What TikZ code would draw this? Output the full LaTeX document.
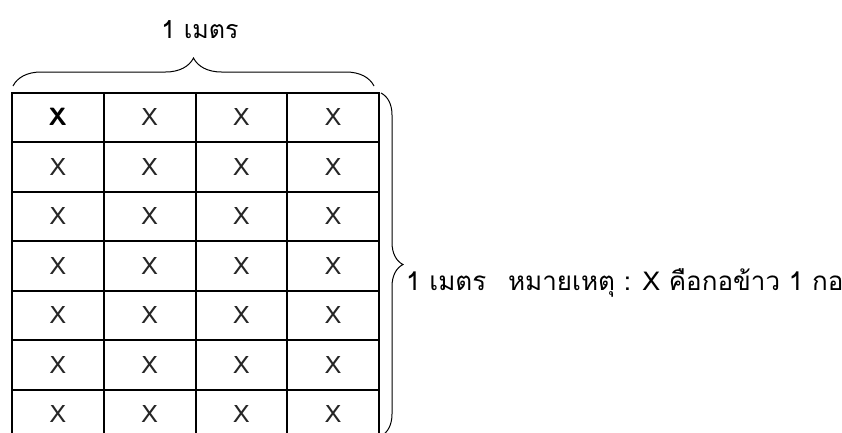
\documentclass[tikz,border=0pt]{standalone}
\usepackage{fontspec}
\setmainfont[Script=Thai]{Loma}
\newfontfamily\thaifont[Script=Thai]{Loma}
\usetikzlibrary{decorations.pathreplacing}
\begin{document}
\begin{tikzpicture}[x=1pt,y=-1pt,
  gridline/.style={line width=2pt},
  bracepath/.style={decorate,line width=1pt,decoration={brace,amplitude=#1}},
  xmark/.style={font=\fontsize{24}{28}\selectfont\thaifont\color{black!85},inner sep=0pt},
  lbl/.style={font=\fontsize{25}{30}\selectfont\thaifont,inner sep=0pt}]
\useasboundingbox (0,0) rectangle (842,432);
\begin{scope}
\clip (0,0) rectangle (842,432);
% grid
\foreach \i in {0,...,4}{
  \draw[gridline] ({12+91.75*\i},92.5) -- ({12+91.75*\i},440);
}
\foreach \j in {0,...,7}{
  \draw[gridline] (11,{92.5+49.5*\j}) -- (380,{92.5+49.5*\j});
}
\foreach \i in {0,...,3}{
  \foreach \j in {0,...,6}{
    \ifnum\i=0 \ifnum\j=0 \else
      \node[xmark] (c-\i-\j) at ({12+91.75*(\i+0.5)},{92.5+49.5*(\j+0.5)}) {X};
    \fi\else
      \node[xmark] (c-\i-\j) at ({12+91.75*(\i+0.5)},{92.5+49.5*(\j+0.5)}) {X};
    \fi
  }
}
\node[xmark,font=\fontsize{25}{28}\selectfont\bfseries\sffamily] (c-0-0) at ({12+91.75*0.5},{92.5+49.5*0.5}) {X};
% right brace
\coordinate (rt) at (381,93);
\coordinate (rb) at (381,436);
\draw[bracepath=22] (rt) -- (rb);
\end{scope}
% top brace
\coordinate (tl) at (13,86);
\coordinate (tr) at (374,86);
\draw[bracepath=28] (tl) -- (tr);
\node[lbl] (toplbl) at (200,30) {1 เมตร};
\node[lbl,font=\fontsize{26}{30}\selectfont\thaifont,anchor=west] (rightlbl) at (406,283) {1 เมตร\hspace{0.5em} หมายเหตุ : X คือกอข้าว 1 กอ};
\end{tikzpicture}
\end{document}
